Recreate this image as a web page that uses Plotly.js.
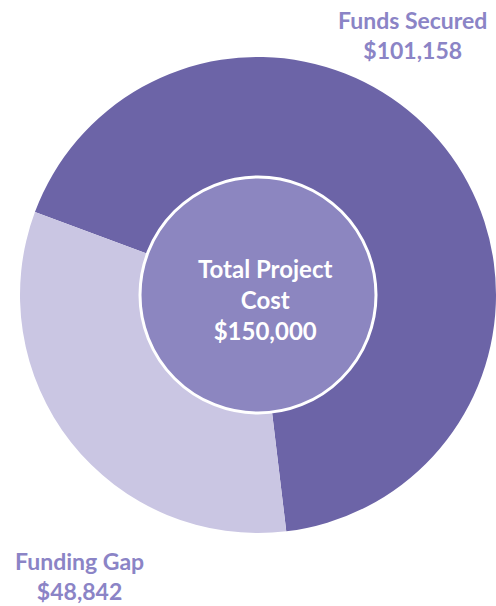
<!DOCTYPE html>
<html>
<head>
<meta charset="utf-8">
<script src="https://cdn.plot.ly/plotly-3.0.1.min.js"></script>
<style>
  html, body { margin: 0; padding: 0; background: white; }
  #chart { width: 496px; height: 606px; }
</style>
</head>
<body>
<div id="chart"></div>
<script>
// funding breakdown
const segments = ["Funds Secured", "Funding Gap"];
const amounts = [101158, 48842];
const segColors = ["#6c64a7", "#cac6e3"];

const totalLabel = ["Total Project", "Cost"];
const totalAmount = 150000;

const fmt = (v) => "$" + v.toLocaleString("en-US");

// outer ring
const ring = {
  type: "pie",
  values: amounts,
  labels: segments,
  sort: false,
  direction: "clockwise",
  rotation: -69.6,
  hole: 0.496,
  marker: { colors: segColors, line: { width: 0 } },
  textinfo: "none",
  hoverinfo: "label+value",
  showlegend: false,
  domain: { x: [0, 1], y: [0, 1] }
};

// inner disc for the total
const r = 118 / 476;
const core = {
  type: "pie",
  values: [totalAmount],
  labels: ["Total"],
  textinfo: "none",
  marker: { colors: ["#8c86c0"], line: { color: "white", width: 3 } },
  hoverinfo: "skip",
  showlegend: false,
  domain: { x: [0.5 - r, 0.5 + r], y: [0.5 - r, 0.5 + r] }
};

const labelFont = { family: "Lato", size: 23, color: "#8b84c6", weight: "bold" };
const bold = (s) => "<b>" + s + "</b>";

Plotly.newPlot("chart", [ring, core], {
  width: 496,
  height: 606,
  margin: { l: 20, r: 0, t: 57, b: 73 },
  paper_bgcolor: "white",
  plot_bgcolor: "white",
  annotations: [
    {
      text: bold(segments[0]) + "<br>" + bold(fmt(amounts[0])),
      xref: "paper", yref: "paper",
      x: 0.8256, y: 1.046,
      xanchor: "center", yanchor: "middle",
      showarrow: false, font: labelFont
    },
    {
      text: bold(segments[1]) + "<br>" + bold(fmt(amounts[1])),
      xref: "paper", yref: "paper",
      x: 0.125, y: -0.090,
      xanchor: "center", yanchor: "middle",
      showarrow: false, font: labelFont
    },
    {
      text: totalLabel.map(bold).join("<br>") + "<br>" + bold(fmt(totalAmount)),
      xref: "paper", yref: "paper",
      x: 0.515, y: 0.4895,
      xanchor: "center", yanchor: "middle",
      showarrow: false,
      font: { family: "Lato", size: 24, color: "white", weight: "bold" }
    }
  ]
}, { displayModeBar: false });
</script>
</body>
</html>
